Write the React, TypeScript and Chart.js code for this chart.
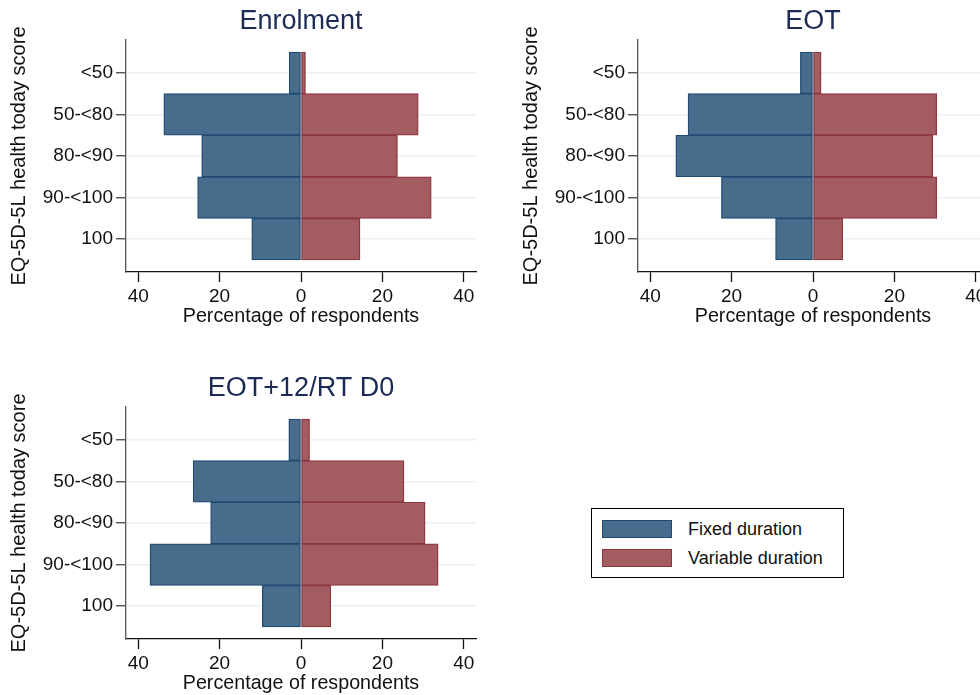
import { useEffect, useRef } from "react";
import { Chart, registerables } from "chart.js";

Chart.register(...registerables);

// Score bands (top to bottom) and x-axis tick positions
const categories = ["<50", "50-<80", "80-<90", "90-<100", "100"];
const xTickValues = [-40, -20, 0, 20, 40];

// Percentage of respondents per band
const enrolmentFixed = [2.9, 33.7, 24.4, 25.4, 12.1];
const enrolmentVariable = [1.1, 28.8, 23.7, 32.0, 14.5];
const eotFixed = [3.1, 30.7, 33.7, 22.5, 9.2];
const eotVariable = [2.0, 30.4, 29.4, 30.4, 7.3];
const eot12Fixed = [3.0, 26.5, 22.2, 37.1, 9.5];
const eot12Variable = [2.1, 25.3, 30.5, 33.7, 7.3];

const FONT = '"Liberation Sans", Arial, Helvetica, sans-serif';
const BLUE = "#486c8c";
const BLUE_EDGE = "#1f4a72";
const RED = "#a35d61";
const RED_EDGE = "#8c3640";
const TEXT = "#111111";
const TITLE = "#1c2b55";

// Panel heading centred over the plot area
const panelTitle = {
  id: "panelTitle",
  afterDraw(chart: any, _args: any, opts: any) {
    const { ctx, chartArea } = chart;
    ctx.save();
    ctx.font = `27px ${FONT}`;
    ctx.fillStyle = TITLE;
    ctx.textAlign = "center";
    ctx.textBaseline = "alphabetic";
    ctx.fillText(opts.text, (chartArea.left + chartArea.right) / 2, 29);
    ctx.restore();
  },
};

type PyramidProps = {
  title: string;
  fixed: number[];
  variable: number[];
  left: number;
  top: number;
};

function Pyramid({ title, fixed, variable, left, top }: PyramidProps) {
  const ref = useRef<HTMLCanvasElement>(null);

  useEffect(() => {
    if (!ref.current) return;
    const chart = new Chart(ref.current, {
      type: "bar",
      data: {
        datasets: [
          {
            label: "Fixed duration",
            data: fixed.map((v, i) => ({ x: -v, y: i + 1 })),
            backgroundColor: BLUE,
            borderColor: BLUE_EDGE,
            borderWidth: 1.3,
            borderSkipped: false,
            grouped: false,
            barPercentage: 1,
            categoryPercentage: 1,
          },
          {
            label: "Variable duration",
            data: variable.map((v, i) => ({ x: v, y: i + 1 })),
            backgroundColor: RED,
            borderColor: RED_EDGE,
            borderWidth: 1.3,
            borderSkipped: false,
            grouped: false,
            barPercentage: 1,
            categoryPercentage: 1,
          },
        ] as any,
      },
      options: {
        indexAxis: "y",
        animation: false,
        responsive: false,
        maintainAspectRatio: false,
        layout: { padding: { top: 40, right: 14, bottom: 0, left: 0 } },
        plugins: {
          legend: { display: false },
          tooltip: { enabled: false },
          panelTitle: { text: title },
        } as any,
        scales: {
          x: {
            type: "linear",
            min: -43,
            max: 43,
            afterBuildTicks: (s: any) => {
              s.ticks = xTickValues.map((v) => ({ value: v }));
            },
            afterFit: (s: any) => {
              s.height = 68;
            },
            ticks: {
              callback: (v: any) => String(Math.abs(Number(v))),
              font: { family: FONT, size: 19 },
              color: TEXT,
              padding: 3,
              maxRotation: 0,
              autoSkip: false,
            },
            grid: {
              drawOnChartArea: false,
              drawTicks: true,
              tickLength: 10,
              tickColor: TEXT,
              tickWidth: 1.3,
            },
            border: { color: TEXT, width: 1.3 },
            title: {
              display: true,
              text: "Percentage of respondents",
              font: { family: FONT, size: 19.7 },
              color: TEXT,
              padding: { top: 0, bottom: 12 },
            },
          },
          y: {
            type: "linear",
            reverse: true,
            offset: false,
            min: 0.21,
            max: 5.79,
            afterBuildTicks: (s: any) => {
              s.ticks = categories.map((_, i) => ({ value: i + 1 }));
            },
            afterFit: (s: any) => {
              s.width = 126;
            },
            ticks: {
              callback: (v: any) => categories[Math.round(Number(v)) - 1] ?? "",
              font: { family: FONT, size: 19 },
              color: TEXT,
              padding: 3,
              autoSkip: false,
            },
            grid: {
              offset: false,
              color: "#eaf1f3",
              lineWidth: 1.5,
              drawTicks: true,
              tickLength: 10,
              tickColor: "#444444",
              tickWidth: 1.3,
            },
            border: { color: "#555555", width: 1.3 },
            title: {
              display: true,
              text: "EQ-5D-5L health today score",
              font: { family: FONT, size: 20 },
              color: TEXT,
              padding: { top: 7, bottom: 0 },
            },
          },
        } as any,
      },
      plugins: [panelTitle],
    });
    return () => chart.destroy();
  }, [title, fixed, variable]);

  return (
    <canvas
      ref={ref}
      width={490}
      height={340}
      style={{ position: "absolute", left, top, width: 490, height: 340 }}
    />
  );
}

function LegendBox() {
  const row = (color: string, edge: string, label: string, top: number) => (
    <div style={{ position: "absolute", left: 0, top, height: 19, width: 245 }}>
      <div
        style={{
          position: "absolute",
          left: 10,
          top: 0,
          width: 70,
          height: 18,
          boxSizing: "border-box",
          background: color,
          border: `1.3px solid ${edge}`,
        }}
      />
      <div
        style={{
          position: "absolute",
          left: 96,
          top: -2,
          fontFamily: FONT,
          fontSize: 18,
          lineHeight: "22px",
          color: TEXT,
          whiteSpace: "nowrap",
        }}
      >
        {label}
      </div>
    </div>
  );
  return (
    <div
      style={{
        position: "absolute",
        left: 591,
        top: 508,
        width: 253,
        height: 70,
        boxSizing: "border-box",
        border: "1.3px solid #000",
        background: "#fff",
      }}
    >
      {row(BLUE, BLUE_EDGE, "Fixed duration", 11)}
      {row(RED, RED_EDGE, "Variable duration", 40)}
    </div>
  );
}

export default function App() {
  return (
    <div
      style={{
        position: "absolute",
        left: 0,
        top: 0,
        width: 980,
        height: 695,
        overflow: "hidden",
        background: "#ffffff",
      }}
    >
      <Pyramid title="Enrolment" fixed={enrolmentFixed} variable={enrolmentVariable} left={0} top={0} />
      <Pyramid title="EOT" fixed={eotFixed} variable={eotVariable} left={512} top={0} />
      <Pyramid title="EOT+12/RT D0" fixed={eot12Fixed} variable={eot12Variable} left={0} top={367} />
      <LegendBox />
    </div>
  );
}
